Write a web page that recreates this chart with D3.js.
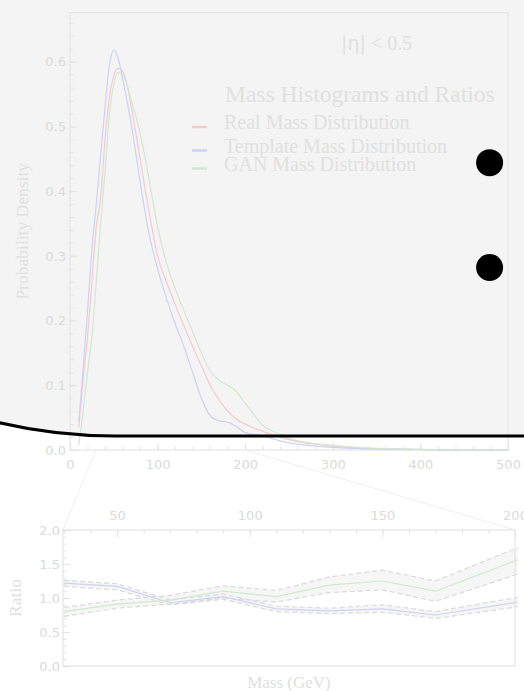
<!DOCTYPE html>
<html>
<head>
<meta charset="utf-8">
<script src="https://cdn.jsdelivr.net/npm/d3@7"></script>
<style>
  html, body { margin: 0; padding: 0; background: #ffffff; }
  svg { display: block; }
  .tick text { fill: #dadada; font-family: "DejaVu Sans", sans-serif; font-size: 13px; }
  .tick line { stroke: #e2e2e2; stroke-width: 1; }
  .serif { font-family: "Liberation Serif", "Times New Roman", serif; fill: #e0e0e0; }
</style>
</head>
<body>
<svg id="chart" width="524" height="691"></svg>
<script>
// ── data ────────────────────────────────────────────────────────────────

// main panel: mass densities on a shared mass grid (GeV)
const massGrid = [10, 15, 20, 25, 30, 35, 40, 45, 50, 55, 60, 65, 70, 80, 90, 100, 110, 120,
  130, 140, 150, 160, 170, 180, 190, 200, 210, 220, 230, 240, 250, 260, 280, 300, 330, 360, 400, 450, 500];
const realDensity = [0.035, 0.11, 0.175, 0.26, 0.345, 0.39, 0.48, 0.545, 0.578, 0.59, 0.585, 0.565, 0.53,
  0.45, 0.37, 0.30, 0.26, 0.225, 0.192, 0.16, 0.13, 0.1, 0.078, 0.06, 0.048, 0.04, 0.034, 0.029,
  0.024, 0.02, 0.016, 0.013, 0.009, 0.006, 0.003, 0.002, 0.001, 0, 0];
const templateDensity = [0.044, 0.125, 0.215, 0.31, 0.38, 0.455, 0.53, 0.595, 0.618, 0.605, 0.575, 0.54, 0.503,
  0.415, 0.335, 0.28, 0.235, 0.195, 0.16, 0.12, 0.08, 0.053, 0.045, 0.043, 0.036, 0.027, 0.024, 0.022,
  0.018, 0.014, 0.011, 0.009, 0.006, 0.004, 0.002, 0.001, 0.0005, 0, 0];
const ganDensity = [0.008, 0.06, 0.12, 0.175, 0.26, 0.35, 0.43, 0.52, 0.565, 0.583, 0.58, 0.565, 0.54,
  0.49, 0.42, 0.345, 0.29, 0.25, 0.215, 0.183, 0.15, 0.122, 0.108, 0.1, 0.09, 0.072, 0.055, 0.038,
  0.03, 0.024, 0.018, 0.014, 0.01, 0.007, 0.004, 0.002, 0.001, 0, 0];

// ratio panel (zoom on 30-200 GeV)
const ratioMass = [30, 50, 70, 90, 110, 130, 150, 170, 201];
const templateRatio = [1.22, 1.17, 0.93, 1.02, 0.84, 0.81, 0.84, 0.75, 0.94];
const templateLow = [1.17, 1.12, 0.90, 0.98, 0.80, 0.77, 0.79, 0.70, 0.87];
const templateHigh = [1.26, 1.21, 0.97, 1.06, 0.88, 0.85, 0.90, 0.80, 1.01];
const ganRatio = [0.80, 0.91, 0.97, 1.10, 1.02, 1.19, 1.25, 1.10, 1.56];
const ganLow = [0.73, 0.85, 0.91, 1.00, 0.94, 1.08, 1.12, 0.95, 1.35];
const ganHigh = [0.86, 0.97, 1.04, 1.18, 1.11, 1.31, 1.41, 1.25, 1.74];

// ticks
const massTicks = [0, 100, 200, 300, 400, 500];
const densityTicks = [0, 0.1, 0.2, 0.3, 0.4, 0.5, 0.6];
const zoomTicks = [50, 100, 150, 200];
const ratioTicks = [0, 0.5, 1.0, 1.5, 2.0];

const legendLabels = ["Real Mass Distribution", "Template Mass Distribution", "GAN Mass Distribution"];
const seriesColors = ["#f5caca", "#cfd0f5", "#cfe9cf"];

// the two black markers, in data units of the main panel
const markerMass = [479, 479];
const markerDensity = [0.444, 0.282];

// ── layout ───────────────────────────────────────────────────────────────

const svg = d3.select("#chart");

const x = d3.scaleLinear([0, 500], [70, 508]);
const y = d3.scaleLinear([0, 0.676], [450, 12.5]);
const rx = d3.scaleLinear([29.6, 200], [63, 515]);
const ry = d3.scaleLinear([0, 2], [666, 530]);

// grey card behind the upper panel (its bottom-left corner is the big curve)
svg.append("rect")
  .attr("x", -394).attr("y", -1100)
  .attr("width", 1500).attr("height", 1536)
  .attr("rx", 509).attr("ry", 509)
  .attr("fill", "#f4f4f4");

function minorValues(lo, hi, step) {
  const out = [];
  for (let v = lo; v <= hi + 1e-9; v += step) out.push(+v.toFixed(4));
  return out;
}

// ── main panel ──────────────────────────────────────────────────────────

const main = svg.append("g");

main.append("g").attr("transform", "translate(0,450)")
  .call(d3.axisBottom(x).tickValues(minorValues(0, 500, 20)).tickSize(-3.5).tickFormat(""))
  .call(g => g.select(".domain").remove());
main.append("g").attr("transform", "translate(0,450)")
  .call(d3.axisBottom(x).tickValues(massTicks).tickSize(-7).tickPadding(10).tickFormat(d3.format("d")))
  .call(g => g.select(".domain").remove());

main.append("g").attr("transform", "translate(70,0)")
  .call(d3.axisLeft(y).tickValues(minorValues(0, 0.66, 0.02)).tickSize(-3.5).tickFormat(""))
  .call(g => g.select(".domain").remove());
main.append("g").attr("transform", "translate(70,0)")
  .call(d3.axisLeft(y).tickValues(densityTicks).tickSize(-7).tickPadding(4).tickFormat(d3.format(".1f")))
  .call(g => g.select(".domain").remove());

main.append("rect")
  .attr("x", x(0)).attr("y", y(0.676))
  .attr("width", x(500) - x(0)).attr("height", y(0) - y(0.676))
  .attr("fill", "none").attr("stroke", "#e4e4e4").attr("stroke-width", 1.2);

const densityLine = d3.line().x(d => x(d[0])).y(d => y(d[1])).curve(d3.curveMonotoneX);
[realDensity, templateDensity, ganDensity].forEach((vals, i) => {
  main.append("path")
    .attr("d", densityLine(massGrid.map((m, j) => [m, vals[j]])))
    .attr("fill", "none").attr("stroke", seriesColors[i]).attr("stroke-width", 1.2);
});

// y label
main.append("text").attr("class", "serif")
  .attr("transform", `translate(22,${(y(0) + y(0.676)) / 2}) rotate(-90)`)
  .attr("text-anchor", "middle").attr("dy", "0.35em")
  .style("font-size", "17.5px")
  .text("Probability Density");

// |eta| annotation
const eta = main.append("text").attr("class", "serif")
  .attr("x", 341).attr("y", 50).style("font-size", "20px");
eta.append("tspan").style("font-family", "DejaVu Sans, sans-serif").style("font-size", "19px").text("|η|");
eta.append("tspan").text(" < 0.5");

// legend
main.append("text").attr("class", "serif")
  .attr("x", 225).attr("y", 102).style("font-size", "23.5px")
  .text("Mass Histograms and Ratios");
const legendY = [129, 152.5, 170.5];
legendLabels.forEach((lab, i) => {
  main.append("line")
    .attr("x1", 192).attr("x2", 207)
    .attr("y1", legendY[i] - 2).attr("y2", legendY[i] - 2)
    .attr("stroke", seriesColors[i]).attr("stroke-width", 2.5);
  main.append("text").attr("class", "serif")
    .attr("x", 224).attr("y", legendY[i]).style("font-size", "20px")
    .text(lab);
});

// ── zoom connectors ─────────────────────────────────────────────────────

rx.domain().forEach((m, i) => {
  svg.append("line")
    .attr("x1", x(m)).attr("y1", y(0))
    .attr("x2", rx.range()[i]).attr("y2", ry(2))
    .attr("stroke", "#efefef").attr("stroke-width", 1);
});

// ── ratio panel ─────────────────────────────────────────────────────────

const ratio = svg.append("g");
ratio.append("rect")
  .attr("x", 63).attr("y", 530).attr("width", 515 - 63).attr("height", 666 - 530)
  .attr("fill", "#ffffff");

const bandArea = d3.area().x(d => rx(d[0])).y0(d => ry(d[1])).y1(d => ry(d[2]));
const rLine = d3.line().x(d => rx(d[0])).y(d => ry(d[1]));

const ratioSeries = [
  { mid: templateRatio, lo: templateLow, hi: templateHigh, color: seriesColors[1] },
  { mid: ganRatio, lo: ganLow, hi: ganHigh, color: seriesColors[2] },
];
ratioSeries.forEach(s => {
  ratio.append("path")
    .attr("d", bandArea(ratioMass.map((m, j) => [m, s.lo[j], s.hi[j]])))
    .attr("fill", "#f6f6f6");
});
ratioSeries.forEach(s => {
  [s.lo, s.hi].forEach(b => {
    ratio.append("path")
      .attr("d", rLine(ratioMass.map((m, j) => [m, b[j]])))
      .attr("fill", "none").attr("stroke", "#dadada").attr("stroke-width", 1.2)
      .attr("stroke-dasharray", "5,3");
  });
  ratio.append("path")
    .attr("d", rLine(ratioMass.map((m, j) => [m, s.mid[j]])))
    .attr("fill", "none").attr("stroke", s.color).attr("stroke-width", 1.2);
});

ratio.append("g").attr("transform", "translate(0,530)")
  .call(d3.axisTop(rx).tickValues(minorValues(30, 200, 10)).tickSize(-3.5).tickFormat(""))
  .call(g => g.select(".domain").remove());
ratio.append("g").attr("transform", "translate(0,530)")
  .call(d3.axisTop(rx).tickValues(zoomTicks).tickSize(-7).tickPadding(10).tickFormat(d3.format("d")))
  .call(g => g.select(".domain").remove());
ratio.append("g").attr("transform", "translate(63,0)")
  .call(d3.axisLeft(ry).tickValues(minorValues(0, 2, 0.1)).tickSize(-3.5).tickFormat(""))
  .call(g => g.select(".domain").remove());
ratio.append("g").attr("transform", "translate(63,0)")
  .call(d3.axisLeft(ry).tickValues(ratioTicks).tickSize(-7).tickPadding(3).tickFormat(d3.format(".1f")))
  .call(g => g.select(".domain").remove());

ratio.append("rect")
  .attr("x", 63).attr("y", 530).attr("width", 515 - 63).attr("height", 666 - 530)
  .attr("fill", "none").attr("stroke", "#e4e4e4").attr("stroke-width", 1.2);

ratio.append("text").attr("class", "serif")
  .attr("transform", `translate(15,${(530 + 666) / 2}) rotate(-90)`)
  .attr("text-anchor", "middle").attr("dy", "0.35em")
  .style("font-size", "17.5px").text("Ratio");
ratio.append("text").attr("class", "serif")
  .attr("x", (63 + 515) / 2).attr("y", 682).attr("dy", "0.35em")
  .attr("text-anchor", "middle").style("font-size", "17px").text("Mass (GeV)");

// ── overlay: black card edge + markers ──────────────────────────────────

svg.append("rect")
  .attr("x", -394).attr("y", -1100)
  .attr("width", 1500).attr("height", 1536)
  .attr("rx", 509).attr("ry", 509)
  .attr("fill", "none").attr("stroke", "#000").attr("stroke-width", 3);

svg.selectAll("circle.marker")
  .data(markerMass.map((m, i) => [m, markerDensity[i]]))
  .join("circle").attr("class", "marker")
  .attr("cx", d => x(d[0])).attr("cy", d => y(d[1]))
  .attr("r", 13.5).attr("fill", "#000");
</script>
</body>
</html>
